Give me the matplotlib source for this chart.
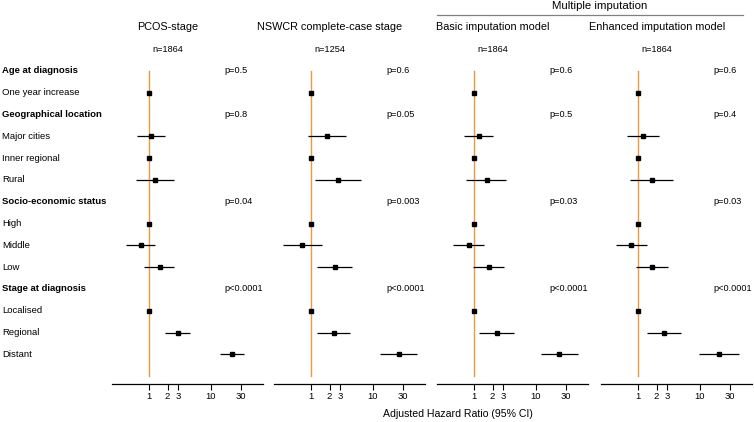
import numpy as np
import matplotlib
matplotlib.use("Agg")
import matplotlib.pyplot as plt
import matplotlib.transforms as mtransforms

plt.rcParams['font.family'] = ['Liberation Sans', 'DejaVu Sans']

# rows of the forest plot (group headers in bold)
row_labels = ["Age at diagnosis", "One year increase",
              "Geographical location", "Major cities", "Inner regional", "Rural",
              "Socio-economic status", "High", "Middle", "Low",
              "Stage at diagnosis", "Localised", "Regional", "Distant"]
header_rows = [0, 2, 6, 10]
item_rows = [1, 3, 4, 5, 7, 8, 9, 11, 12, 13]

panel_titles = ["PCOS-stage", "NSWCR complete-case stage",
                "Basic imputation model", "Enhanced imputation model"]
panel_n = ["n=1864", "n=1254", "n=1864", "n=1864"]

# hazard ratios and 95% CI, one entry per item row
p1_hr = [1.0, 1.09, 1.0, 1.25, 1.0, 0.76, 1.50, 1.0, 2.96, 21.9]
p1_lo = [1.0, 0.64, 1.0, 0.61, 1.0, 0.43, 0.85, 1.0, 1.85, 14.1]
p1_hi = [1.0, 1.80, 1.0, 2.58, 1.0, 1.28, 2.55, 1.0, 4.66, 34.5]

p2_hr = [1.0, 1.80, 1.0, 2.74, 1.0, 0.72, 2.45, 1.0, 2.34, 25.9]
p2_lo = [1.0, 0.91, 1.0, 1.17, 1.0, 0.35, 1.28, 1.0, 1.28, 12.8]
p2_hi = [1.0, 3.64, 1.0, 6.40, 1.0, 1.50, 4.64, 1.0, 4.26, 51.0]

p3_hr = [1.0, 1.22, 1.0, 1.60, 1.0, 0.84, 1.77, 1.0, 2.37, 23.6]
p3_lo = [1.0, 0.69, 1.0, 0.76, 1.0, 0.47, 0.98, 1.0, 1.19, 12.0]
p3_hi = [1.0, 2.05, 1.0, 3.34, 1.0, 1.47, 3.07, 1.0, 4.49, 47.0]

p4_hr = [1.0, 1.23, 1.0, 1.68, 1.0, 0.79, 1.69, 1.0, 2.67, 20.6]
p4_lo = [1.0, 0.67, 1.0, 0.76, 1.0, 0.45, 0.95, 1.0, 1.43, 9.6]
p4_hi = [1.0, 2.19, 1.0, 3.64, 1.0, 1.41, 3.03, 1.0, 5.00, 43.0]

p1_p = ["p=0.5", "p=0.8", "p=0.04", "p<0.0001"]
p2_p = ["p=0.6", "p=0.05", "p=0.003", "p<0.0001"]
p3_p = ["p=0.6", "p=0.5", "p=0.03", "p<0.0001"]
p4_p = ["p=0.6", "p=0.4", "p=0.03", "p<0.0001"]

x_ticks = [1, 2, 3, 10, 30]
x_tick_labels = ["1", "2", "3", "10", "30"]

panels = [(p1_hr, p1_lo, p1_hi, p1_p), (p2_hr, p2_lo, p2_hi, p2_p),
          (p3_hr, p3_lo, p3_hi, p3_p), (p4_hr, p4_lo, p4_hi, p4_p)]

W, H = 754, 422
fig = plt.figure(figsize=(W / 100, H / 100), dpi=100)

orange = "#EE9A3A"
lefts = [112, 274, 437, 601]
pw = 151
top_px, bot_px = 60, 384
axes = []
for i, (hr, lo, hi, pv) in enumerate(panels):
    ax = fig.add_axes([lefts[i] / W, (H - bot_px) / H, pw / W, (bot_px - top_px) / H])
    ax.set_xscale("log")
    ax.set_xlim(0.255, 69)
    ax.set_ylim(14.36, -0.5)
    ax.plot([1, 1], [0, 14], color=orange, lw=1.0, zorder=1)
    ax.hlines(item_rows, lo, hi, color="black", lw=0.9, zorder=2)
    ax.plot(hr, item_rows, "s", color="black", markersize=3.3, zorder=3)
    for r, p in zip(header_rows, pv):
        ax.text(0.742, r, p, transform=ax.get_yaxis_transform(), fontsize=6.6,
                va="center", ha="left")
    for s in ["left", "top", "right"]:
        ax.spines[s].set_visible(False)
    ax.spines["bottom"].set_linewidth(0.9)
    ax.set_yticks([])
    ax.set_xticks(x_ticks)
    ax.set_xticklabels(x_tick_labels)
    ax.minorticks_off()
    ax.tick_params(axis="x", length=4, width=0.8, labelsize=6.8, pad=2)
    # headers above each panel
    hdr = mtransforms.blended_transform_factory(ax.transAxes, fig.transFigure)
    ax.text(0.37, (H - 27) / H, panel_titles[i], fontsize=7.8, ha="center",
            va="center", transform=hdr)
    ax.text(0.37, (H - 49) / H, panel_n[i], fontsize=6.6, ha="center",
            va="center", transform=hdr)
    axes.append(ax)

# row labels on the left
trans = mtransforms.blended_transform_factory(fig.transFigure, axes[0].transData)
for r, lab in enumerate(row_labels):
    fig.text(2 / W, r, lab, transform=trans, fontsize=6.8, va="center", ha="left",
             fontweight="bold" if r in header_rows else "normal")

# spanning header for the imputation panels
fig.text(600 / W, (H - 6) / H, "Multiple imputation", fontsize=8.2, ha="center", va="center")
fig.add_artist(plt.Line2D([437 / W, 743 / W], [(H - 15) / H] * 2, color="#808080", lw=0.9))

fig.text(458 / W, (H - 414) / H, "Adjusted Hazard Ratio (95% CI)", fontsize=7.6,
         ha="center", va="center")

fig.savefig("out.png", dpi=100)
